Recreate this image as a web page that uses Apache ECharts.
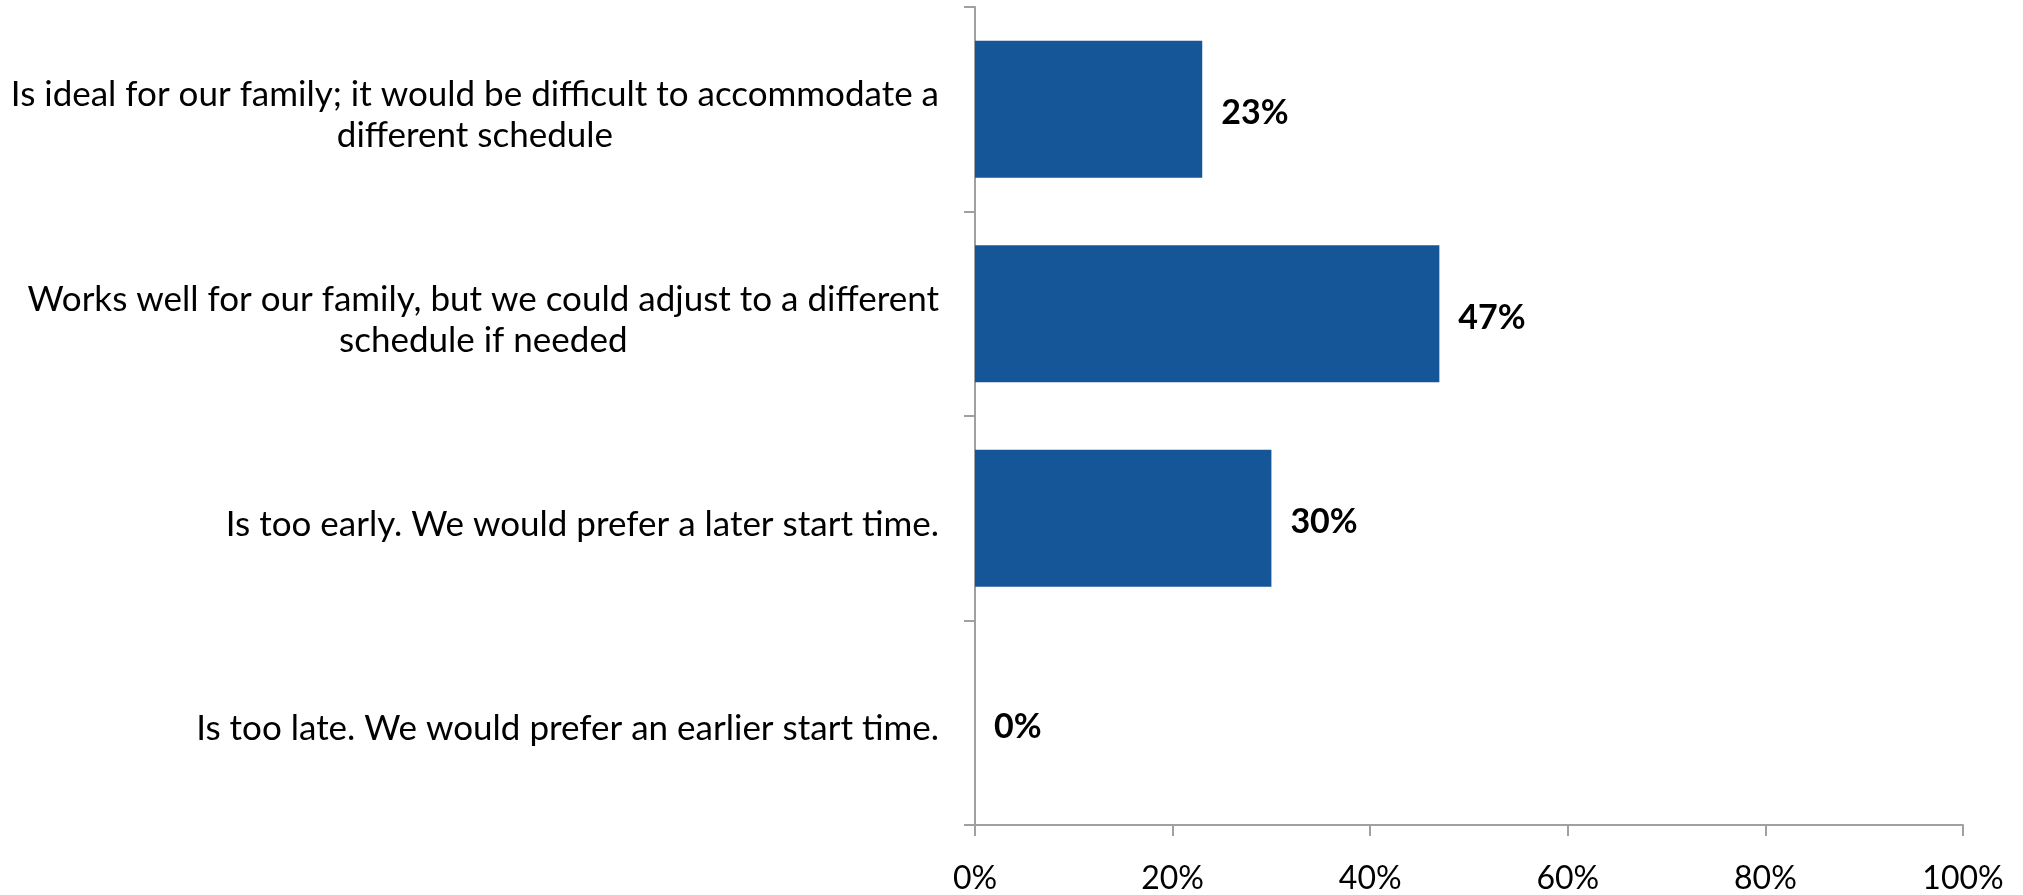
<!DOCTYPE html>
<html>
<head>
<meta charset="utf-8">
<style>
  html, body { margin: 0; padding: 0; background: #ffffff; }
  #chart { width: 2023px; height: 895px; }
</style>
<script src="https://cdn.jsdelivr.net/npm/echarts@6/dist/echarts.min.js"></script>
</head>
<body>
<div id="chart"></div>
<script>
// Survey answers about the current school start time
const categories = [
  'Is ideal for our family; it would be difficult to accommodate a\ndifferent schedule',
  'Works well for our family, but we could adjust to a different\nschedule if needed',
  'Is too early. We would prefer a later start time.',
  'Is too late. We would prefer an earlier start time.'
];
const shares = [23, 47, 30, 0];
const xTicks = [0, 20, 40, 60, 80, 100];

const FONT = 'Lato, "Open Sans", sans-serif';
const AXIS_GREY = '#a0a0a0';

const chart = echarts.init(document.getElementById('chart'), null, { renderer: 'canvas' });

chart.setOption({
  animation: false,
  backgroundColor: '#ffffff',
  grid: { left: 975, right: 60, top: 7, bottom: 66, containLabel: false },
  xAxis: {
    type: 'value',
    min: xTicks[0],
    max: xTicks[xTicks.length - 1],
    interval: xTicks[1] - xTicks[0],
    splitLine: { show: false },
    axisLine: { show: true, lineStyle: { color: AXIS_GREY, width: 2 } },
    axisTick: { show: true, length: 11, lineStyle: { color: AXIS_GREY, width: 2 } },
    axisLabel: {
      margin: 38,
      color: '#000000',
      fontFamily: FONT,
      fontSize: 32,
      formatter: v => v + '%'
    }
  },
  yAxis: {
    type: 'category',
    inverse: true,
    data: categories,
    axisLine: { show: true, lineStyle: { color: AXIS_GREY, width: 2 } },
    axisTick: { show: true, length: 11, alignWithLabel: false, lineStyle: { color: AXIS_GREY, width: 2 } },
    axisLabel: {
      margin: 36,
      color: '#000000',
      fontFamily: FONT,
      fontSize: 35,
      lineHeight: 41,
      align: 'right',
      padding: [12, 0, 0, 0],
      // each line centred inside the right-aligned label block
      formatter: v => v.split('\n').map(s => '{c|' + s + '}').join('\n'),
      rich: {
        c: { align: 'center', fontFamily: FONT, fontSize: 35, lineHeight: 41, color: '#000000' }
      }
    }
  },
  series: [{
    type: 'bar',
    data: shares,
    barCategoryGap: '33%',
    itemStyle: { color: '#155699' },
    label: {
      show: true,
      position: 'right',
      distance: 19,
      offset: [0, 4],
      color: '#000000',
      fontFamily: FONT,
      fontWeight: 'bold',
      fontSize: 34,
      formatter: p => p.value + '%'
    }
  }]
});
</script>
</body>
</html>
